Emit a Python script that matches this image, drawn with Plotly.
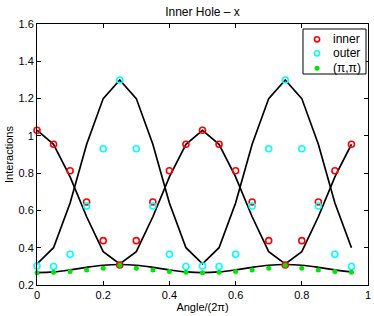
import plotly.graph_objects as go

angle = [0.00, 0.05, 0.10, 0.15, 0.20, 0.25, 0.30, 0.35, 0.40, 0.45,
         0.50, 0.55, 0.60, 0.65, 0.70, 0.75, 0.80, 0.85, 0.90, 0.95]

inner = [1.03, 0.955, 0.813, 0.645, 0.438, 0.307, 0.438, 0.645, 0.813, 0.955,
         1.03, 0.955, 0.813, 0.645, 0.438, 0.307, 0.438, 0.645, 0.813, 0.955]
outer = [0.302, 0.299, 0.365, 0.624, 0.931, 1.30, 0.931, 0.624, 0.365, 0.299,
         0.302, 0.299, 0.365, 0.624, 0.931, 1.30, 0.931, 0.624, 0.365, 0.299]
pipi = [0.266, 0.268, 0.272, 0.280, 0.290, 0.306, 0.290, 0.280, 0.272, 0.268,
        0.266, 0.268, 0.272, 0.280, 0.290, 0.306, 0.290, 0.280, 0.272, 0.268]

theory_inner = [1.03, 0.955, 0.78, 0.566, 0.379, 0.313, 0.379, 0.566, 0.78, 0.955,
                1.03, 0.955, 0.78, 0.566, 0.379, 0.313, 0.379, 0.566, 0.78, 0.955]
theory_outer = [0.313, 0.40, 0.64, 0.955, 1.20, 1.30, 1.20, 0.955, 0.64, 0.40,
                0.313, 0.40, 0.64, 0.955, 1.20, 1.30, 1.20, 0.955, 0.64, 0.40]
theory_pipi = [0.266, 0.270, 0.281, 0.295, 0.306, 0.310, 0.306, 0.295, 0.281, 0.270,
               0.266, 0.270, 0.281, 0.295, 0.306, 0.310, 0.306, 0.295, 0.281, 0.270]

series_names = ["inner", "outer", "(\u03c0,\u03c0)"]
series_colors = ["#ff0000", "#00ffff", "#00e600"]
series_filled = [False, False, True]

xticks = [0, 0.2, 0.4, 0.6, 0.8, 1]
yticks = [0.2, 0.4, 0.6, 0.8, 1.0, 1.2, 1.4, 1.6]

FONT = "Liberation Sans, Arial, Helvetica, sans-serif"

fig = go.Figure()

for y in (theory_inner, theory_outer):
    fig.add_trace(go.Scatter(x=angle, y=y, mode="lines",
                             line=dict(color="black", width=1.7),
                             showlegend=False, hoverinfo="skip"))
fig.add_trace(go.Scatter(x=angle, y=theory_pipi, mode="lines",
                         line=dict(color="black", width=1.7, shape="spline"),
                         showlegend=False, hoverinfo="skip"))

for vals, name, col, filled in zip((inner, outer, pipi), series_names,
                                   series_colors, series_filled):
    if filled:
        mk = dict(symbol="circle", size=5, color=col)
    else:
        mk = dict(symbol="circle-open", size=6, color=col, line=dict(width=1.6, color=col))
    fig.add_trace(go.Scatter(x=angle, y=vals, mode="markers", name=name, marker=mk,
                             cliponaxis=False, showlegend=False))

# legend box (drawn in paper coordinates to match the compact original legend)
shapes = [dict(type="rect", xref="paper", yref="paper", x0=0.8036, x1=0.9940,
               y0=0.8084, y1=0.9808, line=dict(color="black", width=1),
               fillcolor="white", layer="above")]
annotations = []
leg_y = [0.9414, 0.8877, 0.8303]
for name, col, filled, ly in zip(series_names, series_colors, series_filled, leg_y):
    r = 2.5 if filled else 2.6
    shapes.append(dict(type="circle", xref="paper", yref="paper",
                       xsizemode="pixel", ysizemode="pixel", xanchor=0.846, yanchor=ly,
                       x0=-r, x1=r, y0=-r, y1=r, layer="above",
                       line=dict(color=col, width=0 if filled else 1.6),
                       fillcolor=col if filled else "rgba(0,0,0,0)"))
    annotations.append(dict(text=name, xref="paper", yref="paper", x=0.8882, y=ly,
                            xanchor="left", yanchor="middle", showarrow=False,
                            font=dict(family=FONT, size=12, color="black")))

axis_common = dict(showgrid=False, zeroline=False, showline=True, linecolor="black",
                   linewidth=1, mirror="ticks", ticks="inside", ticklen=4,
                   tickcolor="black", automargin=False, ticklabeloverflow="allow",
                   tickfont=dict(family=FONT, size=11, color="black"))

fig.update_layout(
    template="none",
    width=374, height=316,
    margin=dict(l=37, r=6, t=24, b=31, pad=0),
    paper_bgcolor="white", plot_bgcolor="white",
    font=dict(family=FONT, size=11, color="black"),
    showlegend=False,
    title=dict(text="Inner Hole \u2013 x", x=0.5, xref="paper", y=1 - 12 / 316,
               yref="container", xanchor="center", yanchor="middle",
               font=dict(family=FONT, size=12, color="black")),
    xaxis=dict(range=[0, 1], tickvals=xticks, ticktext=[f"{v:g}" for v in xticks],
               title=dict(text="Angle/(2\u03c0)", standoff=0,
                          font=dict(family=FONT, size=11, color="black")),
               **axis_common),
    yaxis=dict(range=[0.2, 1.6], tickvals=yticks, ticktext=[f"{v:g}" for v in yticks],
               title=dict(text="Interactions", standoff=2,
                          font=dict(family=FONT, size=11, color="black")),
               **axis_common),
    shapes=shapes,
    annotations=annotations,
)

fig.write_html("out.html", config={"displayModeBar": False},
               post_script="document.body.style.margin='0';document.body.style.padding='0';")
